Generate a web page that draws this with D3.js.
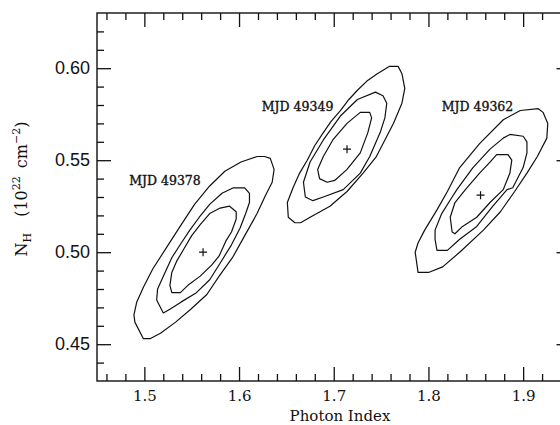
<!DOCTYPE html>
<html>
<head>
<meta charset="utf-8">
<script src="https://cdn.jsdelivr.net/npm/d3@7"></script>
<style>
  html, body { margin: 0; padding: 0; background: #fff; overflow: hidden; }
  svg { display: block; }
</style>
</head>
<body>
<svg id="chart" width="560" height="425"></svg>
<script>
// Axis ranges and tick labels
const photonIndexRange = [1.45, 1.95];
const nhRange = [0.43, 0.63];
const xMajorTicks = [1.5, 1.6, 1.7, 1.8, 1.9];
const xTickLabels = ["1.5", "1.6", "1.7", "1.8", "1.9"];
const yMajorTicks = [0.45, 0.50, 0.55, 0.60];
const yTickLabels = ["0.45", "0.50", "0.55", "0.60"];

// Observations, best-fit values (photon index, N_H in 1e22 cm^-2)
const observations = ["MJD 49378", "MJD 49349", "MJD 49362"];
const bestFitIndex = [1.562, 1.714, 1.855];
const bestFitNH = [0.500, 0.556, 0.531];
// Label anchor points in data units (start of text, baseline)
const labelIndex = [1.484, 1.624, 1.814];
const labelNH = [0.5366, 0.5770, 0.5770];

// Confidence contours [photon index, N_H], outer -> inner
const contours49378 = [
  [[1.499,0.453],[1.490,0.462],[1.489,0.466],[1.492,0.473],[1.499,0.481],[1.509,0.491],[1.524,0.503],[1.539,0.515],[1.553,0.526],[1.569,0.536],[1.585,0.544],[1.602,0.549],[1.619,0.552],[1.627,0.552],[1.633,0.551],[1.637,0.545],[1.635,0.538],[1.628,0.531],[1.619,0.521],[1.606,0.509],[1.593,0.497],[1.579,0.487],[1.566,0.477],[1.549,0.469],[1.533,0.462],[1.517,0.456],[1.506,0.453]],
  [[1.520,0.467],[1.513,0.474],[1.514,0.480],[1.521,0.488],[1.529,0.497],[1.539,0.505],[1.548,0.512],[1.558,0.519],[1.569,0.526],[1.582,0.532],[1.594,0.535],[1.606,0.535],[1.611,0.532],[1.611,0.527],[1.607,0.521],[1.601,0.513],[1.592,0.504],[1.580,0.494],[1.569,0.485],[1.555,0.478],[1.539,0.473],[1.527,0.469]],
  [[1.529,0.478],[1.527,0.482],[1.529,0.489],[1.534,0.495],[1.542,0.502],[1.550,0.509],[1.559,0.515],[1.569,0.521],[1.580,0.524],[1.590,0.525],[1.597,0.522],[1.597,0.518],[1.592,0.511],[1.586,0.506],[1.579,0.498],[1.571,0.493],[1.559,0.487],[1.546,0.482],[1.538,0.478]]
];
const contours49349 = [
  [[1.659,0.516],[1.652,0.519],[1.651,0.527],[1.657,0.535],[1.664,0.543],[1.672,0.550],[1.680,0.558],[1.689,0.565],[1.697,0.571],[1.707,0.577],[1.716,0.583],[1.725,0.588],[1.735,0.593],[1.746,0.597],[1.759,0.601],[1.768,0.601],[1.772,0.597],[1.775,0.589],[1.772,0.581],[1.763,0.570],[1.754,0.561],[1.745,0.552],[1.731,0.543],[1.714,0.533],[1.696,0.525],[1.675,0.519],[1.665,0.516]],
  [[1.678,0.528],[1.670,0.530],[1.668,0.538],[1.675,0.549],[1.689,0.561],[1.707,0.574],[1.725,0.583],[1.744,0.587],[1.752,0.585],[1.756,0.581],[1.754,0.573],[1.749,0.565],[1.738,0.552],[1.728,0.543],[1.710,0.534],[1.689,0.530]],
  [[1.693,0.538],[1.685,0.540],[1.683,0.545],[1.689,0.552],[1.699,0.561],[1.714,0.570],[1.728,0.576],[1.738,0.576],[1.740,0.573],[1.736,0.565],[1.728,0.554],[1.714,0.545],[1.701,0.539]]
];
const contours49362 = [
  [[1.800,0.489],[1.789,0.489],[1.786,0.500],[1.789,0.505],[1.796,0.512],[1.809,0.523],[1.820,0.533],[1.833,0.546],[1.854,0.559],[1.879,0.572],[1.897,0.577],[1.916,0.578],[1.921,0.576],[1.926,0.570],[1.925,0.562],[1.915,0.552],[1.904,0.543],[1.891,0.533],[1.876,0.522],[1.858,0.512],[1.833,0.500],[1.815,0.492]],
  [[1.809,0.501],[1.807,0.507],[1.807,0.512],[1.814,0.521],[1.825,0.530],[1.830,0.534],[1.847,0.546],[1.865,0.556],[1.879,0.562],[1.886,0.564],[1.900,0.563],[1.904,0.560],[1.904,0.554],[1.900,0.546],[1.889,0.535],[1.883,0.534],[1.868,0.525],[1.851,0.514],[1.833,0.507],[1.820,0.501]],
  [[1.825,0.511],[1.823,0.519],[1.828,0.527],[1.839,0.534],[1.854,0.543],[1.865,0.549],[1.872,0.553],[1.884,0.553],[1.888,0.550],[1.886,0.543],[1.879,0.534],[1.865,0.527],[1.851,0.519],[1.836,0.514],[1.828,0.510]]
];
const contourSets = [contours49378, contours49349, contours49362];

// Layout
const margin = { top: 13, left: 97 };
const plotW = 473.5, plotH = 368;
const majorLen = 14, minorLen = 7;
const ink = "#111";

const svg = d3.select("#chart");
svg.append("rect").attr("width", 560).attr("height", 425).attr("fill", "#fff");

const x = d3.scaleLinear().domain(photonIndexRange).range([0, plotW]);
const y = d3.scaleLinear().domain(nhRange).range([plotH, 0]);

const g = svg.append("g").attr("transform", `translate(${margin.left},${margin.top})`);

// minor tick positions every 0.02 in index, 0.01 in N_H
const xMinor = d3.range(1.46, 1.95, 0.02).filter(v => !xMajorTicks.some(m => Math.abs(m - v) < 1e-6));
const yMinor = d3.range(0.44, 0.625, 0.01).filter(v => !yMajorTicks.some(m => Math.abs(m - v) < 1e-6));

function styleAxis(sel) {
  sel.select(".domain").remove();
  sel.selectAll(".tick line").attr("stroke", ink).attr("stroke-width", 1.3);
}

// bottom axis (ticks pointing inward)
g.append("g").attr("transform", `translate(0,${plotH})`)
  .call(d3.axisBottom(x).tickValues(xMinor).tickSizeInner(-minorLen).tickSizeOuter(0).tickFormat(""))
  .call(styleAxis);
const bottomMajor = g.append("g").attr("transform", `translate(0,${plotH})`)
  .call(d3.axisBottom(x).tickValues(xMajorTicks).tickSizeInner(-majorLen).tickSizeOuter(0).tickPadding(9)
    .tickFormat((d, i) => xTickLabels[i]))
  .call(styleAxis);
bottomMajor.selectAll("text").attr("font-family", "'DejaVu Serif', serif").attr("font-size", 15).attr("fill", ink);

// top axis
g.append("g")
  .call(d3.axisTop(x).tickValues(xMinor).tickSizeInner(-minorLen).tickSizeOuter(0).tickFormat(""))
  .call(styleAxis);
g.append("g")
  .call(d3.axisTop(x).tickValues(xMajorTicks).tickSizeInner(-majorLen).tickSizeOuter(0).tickFormat(""))
  .call(styleAxis);

// left axis
g.append("g")
  .call(d3.axisLeft(y).tickValues(yMinor).tickSizeInner(-minorLen).tickSizeOuter(0).tickFormat(""))
  .call(styleAxis);
const leftMajor = g.append("g")
  .call(d3.axisLeft(y).tickValues(yMajorTicks).tickSizeInner(-majorLen).tickSizeOuter(0).tickPadding(7)
    .tickFormat((d, i) => yTickLabels[i]))
  .call(styleAxis);
leftMajor.selectAll("text").attr("font-family", "'Liberation Sans', Arial, sans-serif").attr("font-size", 18).attr("fill", ink);

// right axis
g.append("g").attr("transform", `translate(${plotW},0)`)
  .call(d3.axisRight(y).tickValues(yMinor).tickSizeInner(-minorLen).tickSizeOuter(0).tickFormat(""))
  .call(styleAxis);
g.append("g").attr("transform", `translate(${plotW},0)`)
  .call(d3.axisRight(y).tickValues(yMajorTicks).tickSizeInner(-majorLen).tickSizeOuter(0).tickFormat(""))
  .call(styleAxis);

// frame
g.append("rect").attr("x", 0).attr("y", 0).attr("width", plotW).attr("height", plotH)
  .attr("fill", "none").attr("stroke", ink).attr("stroke-width", 1.4);

// contours
const line = d3.line().x(d => x(d[0])).y(d => y(d[1])).curve(d3.curveLinearClosed);
contourSets.forEach(set => {
  g.append("g").selectAll("path").data(set).join("path")
    .attr("d", line)
    .attr("fill", "none").attr("stroke", ink).attr("stroke-width", 1.2)
    .attr("stroke-linejoin", "round");
});

// best-fit crosses
const arm = 4;
observations.forEach((name, i) => {
  const cx = x(bestFitIndex[i]), cy = y(bestFitNH[i]);
  g.append("path")
    .attr("d", `M${cx - arm},${cy}H${cx + arm}M${cx},${cy - arm}V${cy + arm}`)
    .attr("stroke", ink).attr("stroke-width", 1.2);
});

// observation labels
g.append("g").selectAll("text").data(observations).join("text")
  .attr("x", (d, i) => x(labelIndex[i]))
  .attr("y", (d, i) => y(labelNH[i]))
  .attr("font-family", "'DejaVu Serif', serif")
  .attr("font-size", 12.5)
  .attr("fill", ink)
  .attr("stroke", ink).attr("stroke-width", 0.35)
  .text(d => d);

// axis titles
svg.append("text")
  .attr("x", 340).attr("y", 421)
  .attr("text-anchor", "middle")
  .attr("font-family", "'DejaVu Serif', serif").attr("font-size", 15).attr("fill", ink)
  .text("Photon Index");

const yTitle = svg.append("text")
  .attr("transform", "translate(27,189) rotate(-90)")
  .attr("text-anchor", "middle")
  .attr("font-family", "'DejaVu Serif', serif").attr("font-size", 16).attr("fill", ink);
yTitle.append("tspan").text("N");
yTitle.append("tspan").attr("font-size", 11).attr("dy", 4).text("H");
yTitle.append("tspan").attr("dy", -4).text("\u2003(10");
yTitle.append("tspan").attr("font-size", 11).attr("dy", -7).text("22");
yTitle.append("tspan").attr("dy", 7).text("\u2002cm");
yTitle.append("tspan").attr("font-size", 11).attr("dy", -7).text("\u22122");
yTitle.append("tspan").attr("dy", 7).text(")");
</script>
</body>
</html>
